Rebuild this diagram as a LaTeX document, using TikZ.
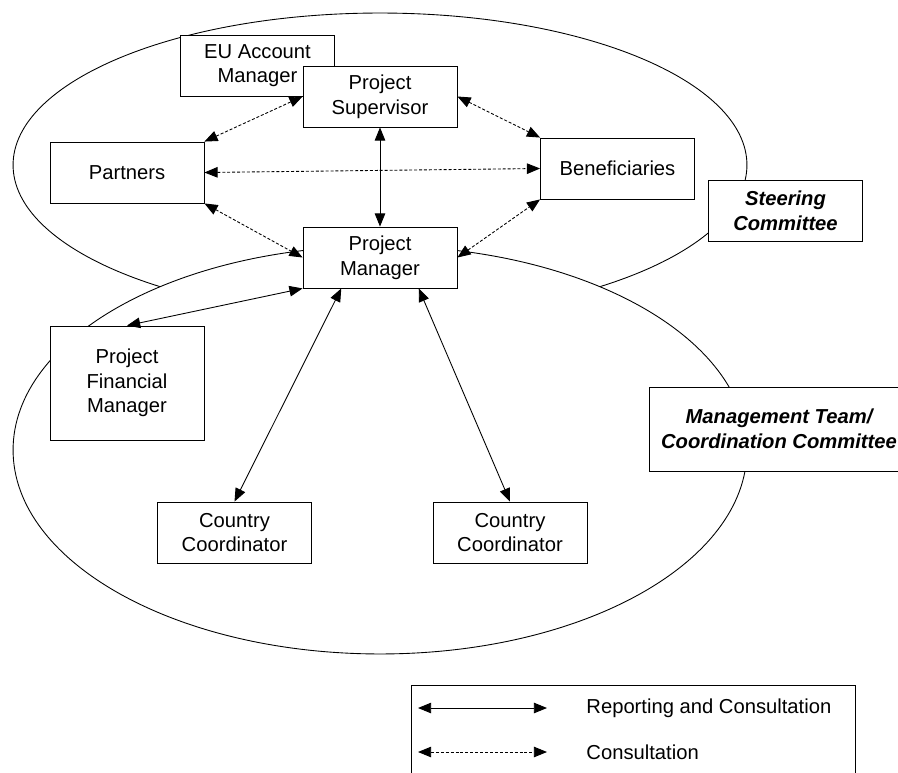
\documentclass[tikz,border=0pt]{standalone}
\usepackage{fontspec}
\setmainfont{Liberation Sans}
\usetikzlibrary{arrows.meta,calc}

\begin{document}
\begin{tikzpicture}[x=0.02cm,y=-0.02cm,line width=.5pt,
	box/.style={draw,fill=white,rectangle,inner sep=1pt,align=center,minimum width=3.08cm,minimum height=1.22cm,font=\fontsize{11.5pt}{14pt}\selectfont},
	title/.style={box,font=\fontsize{11.5pt}{14pt}\selectfont\bfseries\itshape},
	report/.style={{Triangle[length=7.5pt,width=6pt]}-{Triangle[length=7.5pt,width=6pt]}},
	consult/.style={report,dash pattern=on 1.7pt off 1.1pt},
	txt/.style={anchor=west,inner sep=0pt,font=\fontsize{11.5pt}{14pt}\selectfont}]
	\useasboundingbox (0,0) rectangle (898,773);
	\clip (0,0) rectangle (898,773);
	\draw (380,165) ellipse [x radius=7.34cm,y radius=3.04cm];
	\draw[fill=white] (380,450) ellipse [x radius=7.34cm,y radius=4.08cm];

	\node[box] (eu) at (257.5,65.5) {EU Account\\Manager};
	\node[box] (ps) at (380,96.5) {Project\\Supervisor};
	\node[box] (part) at (127,172.5) {Partners};
	\node[box] (ben) at (617.5,168.5) {Beneficiaries};
	\node[title] (sc) at (785.5,210.5) {Steering\\Committee};
	\node[box] (pm) at (380,257.5) {Project\\Manager};
	\node[box,minimum height=2.28cm] (fm) at (127,383) {Project\\Financial\\Manager};
	\node[box] (cc1) at (234.5,532.5) {Country\\Coordinator};
	\node[box] (cc2) at (510,532.5) {Country\\Coordinator};
	\node[title,minimum width=5.2cm,minimum height=1.68cm] (mt) at (779,429) {Management Team/\\Coordination Committee};

	\draw[report] (ps.south) -- (pm.north);
	\draw[report] (pm.south west) -- (fm.north);
	\draw[report] ($(pm.south west)!.25!(pm.south east)$) -- (cc1.north);
	\draw[report] ($(pm.south west)!.75!(pm.south east)$) -- (cc2.north);
	\draw[consult] (part.north east) -- (ps.west);
	\draw[consult] (part.east) -- (ben.west);
	\draw[consult] (part.south east) -- (pm.west);
	\draw[consult] (ps.east) -- (ben.north west);
	\draw[consult] (pm.east) -- (ben.south west);

	\draw (411,800) rectangle (855,685);
	\coordinate (ra) at (418,708);
	\coordinate (rb) at (547,708);
	\coordinate (ca) at (418,752);
	\coordinate (cb) at (547,752);
	\draw[report] (ra) -- (rb);
	\draw[consult] (ca) -- (cb);
	\node[txt] (rtxt) at (586,708) {Reporting and Consultation};
	\node[txt] (ctxt) at (586,752) {Consultation};
\end{tikzpicture}
\end{document}
